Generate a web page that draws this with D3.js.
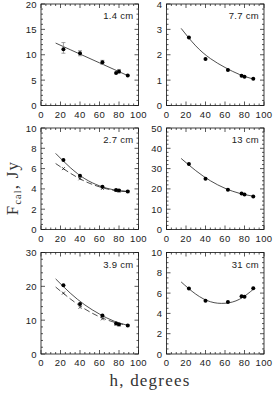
<!DOCTYPE html>
<html>
<head>
<meta charset="utf-8">
<script src="https://cdn.jsdelivr.net/npm/d3@7"></script>
<style>
body { margin: 0; background: #fff; }
svg { display: block; }
.frame { fill: none; stroke: #111; stroke-width: 0.8; }
.tick { stroke: #111; stroke-width: 0.7; }
.tlab { font-family: "Liberation Sans", sans-serif; font-size: 9.5px; fill: #222; letter-spacing: 0.4px; }
.plab { font-family: "Liberation Sans", sans-serif; font-size: 9.5px; fill: #222; letter-spacing: 0.3px; }
.fit { fill: none; stroke: #222; stroke-width: 0.8; }
.dash { fill: none; stroke: #222; stroke-width: 0.8; stroke-dasharray: 6,3; }
.err { stroke: #888; stroke-width: 0.8; }
.axlab { font-family: "Liberation Serif", serif; font-size: 17px; fill: #333; letter-spacing: 1.2px; }
</style>
</head>
<body>
<svg width="273" height="396"></svg>
<script>
// panel order: top-left, top-right, mid-left, mid-right, bottom-left, bottom-right
var panelLabels = ["1.4 cm", "7.7 cm", "2.7 cm", "13 cm", "3.9 cm", "31 cm"];
var yMax = [20, 4, 10, 50, 30, 10];
var yMajor = [5, 1, 2, 10, 10, 2];
var yMinor = [1, 0.2, 0.5, 2, 2, 0.5];
var xTicks = [0, 20, 40, 60, 80, 100];

// elevation of the measurements, degrees
var hObs = [23, 40, 63, 77, 80, 89];

// filled points per panel
var obs14 = [11.1, 10.3, 8.5, 6.4, 6.7, 5.9];
var obs77 = [2.68, 1.83, 1.40, 1.17, 1.13, 1.05];
var obs27 = [6.85, 5.3, 4.2, 3.9, 3.85, 3.75];
var obs13 = [32.3, 25.0, 19.6, 17.7, 17.2, 16.3];
var obs39 = [20.3, 14.8, 11.4, 9.0, 8.7, 8.4];
var obs31 = [6.45, 5.25, 5.12, 5.7, 5.65, 6.47];

// crosses (second series) for 2.7 and 3.9 cm
var cross27 = [6.0, 5.0, 4.05, 3.85, 3.8, 3.73];
var cross39 = [18.0, 13.8, 10.4, 8.8, 8.6, 8.4];

// error bars in the 1.4 cm panel
var err14Lo = [10.3, 9.8, 8.1, null, 6.4, null];
var err14Hi = [12.4, 10.8, 8.9, null, 7.1, null];

// fitted curves
var fitX = [15, 30, 45, 60, 75, 90];
var fit14 = [12.3, 11.0, 9.7, 8.4, 7.1, 5.8];
var fit77 = [3.04, 2.35, 1.85, 1.50, 1.22, 1.03];
var fit27 = [7.5, 6.1, 5.0, 4.3, 3.9, 3.75];
var fit13 = [35, 29, 24, 20.3, 17.8, 16.3];
var fit39 = [22.2, 18.0, 14.5, 11.8, 9.7, 8.4];
var fit31 = [7.1, 5.9, 5.15, 5.0, 5.4, 6.45];
var dash27 = [6.5, 5.55, 4.75, 4.2, 3.85, 3.72];
var dash39 = [19.8, 16.3, 13.3, 11.0, 9.4, 8.4];

var obsData = [obs14, obs77, obs27, obs13, obs39, obs31];
var crossData = [null, null, cross27, null, cross39, null];
var fitData = [fit14, fit77, fit27, fit13, fit39, fit31];
var dashData = [null, null, dash27, null, dash39, null];

var colX = [41, 166.5];
var rowY = [4, 128, 252.5];
var pw = 97.5;
var ph = 101.5;

var svg = d3.select("svg");

function range(a, b, step) {
    var r = [];
    var n = Math.round((b - a) / step);
    for (var i = 0; i <= n; i++) { r.push(a + i * step); }
    return r;
}

function drawPanel(k) {
    var x0 = colX[k % 2];
    var y0 = rowY[Math.floor(k / 2)];
    var g = svg.append("g").attr("transform", "translate(" + x0 + "," + y0 + ")");

    var x = d3.scaleLinear().domain([0, 100]).range([0, pw]);
    var y = d3.scaleLinear().domain([0, yMax[k]]).range([ph, 0]);

    g.append("rect").attr("class", "frame")
        .attr("x", 0).attr("y", 0).attr("width", pw).attr("height", ph);

    // x ticks, inside, bottom and top
    range(0, 100, 5).forEach(function(v) {
        var len = (v % 20 == 0) ? 4 : 2;
        g.append("line").attr("class", "tick")
            .attr("x1", x(v)).attr("x2", x(v)).attr("y1", ph).attr("y2", ph - len);
        g.append("line").attr("class", "tick")
            .attr("x1", x(v)).attr("x2", x(v)).attr("y1", 0).attr("y2", len);
    });
    xTicks.forEach(function(v) {
        g.append("text").attr("class", "tlab")
            .attr("x", x(v)).attr("y", ph + 12)
            .attr("text-anchor", "middle").text(v);
    });

    // y ticks, inside, left and right
    var nmin = Math.round(yMax[k] / yMinor[k]);
    var per = Math.round(yMajor[k] / yMinor[k]);
    for (var i = 0; i <= nmin; i++) {
        var v = i * yMinor[k];
        var len = (i % per == 0) ? 4 : 2;
        g.append("line").attr("class", "tick")
            .attr("x1", 0).attr("x2", len).attr("y1", y(v)).attr("y2", y(v));
        g.append("line").attr("class", "tick")
            .attr("x1", pw).attr("x2", pw - len).attr("y1", y(v)).attr("y2", y(v));
    }
    range(0, yMax[k], yMajor[k]).forEach(function(v) {
        g.append("text").attr("class", "tlab")
            .attr("x", -4).attr("y", y(v) + 3.5)
            .attr("text-anchor", "end").text(v);
    });

    g.append("text").attr("class", "plab")
        .attr("x", pw - 5).attr("y", 15)
        .attr("text-anchor", "end").text(panelLabels[k]);

    var line = d3.line()
        .x(function(d, i) { return x(fitX[i]); })
        .y(function(d) { return y(d); })
        .curve(d3.curveNatural);

    g.append("path").attr("class", "fit").attr("d", line(fitData[k]));
    if (dashData[k]) {
        g.append("path").attr("class", "dash").attr("d", line(dashData[k]));
    }

    if (k == 0) {
        hObs.forEach(function(h, i) {
            if (err14Lo[i] == null) { return; }
            g.append("line").attr("class", "err")
                .attr("x1", x(h)).attr("x2", x(h))
                .attr("y1", y(err14Lo[i])).attr("y2", y(err14Hi[i]));
            [err14Lo[i], err14Hi[i]].forEach(function(e) {
                g.append("line").attr("class", "err")
                    .attr("x1", x(h) - 2).attr("x2", x(h) + 2)
                    .attr("y1", y(e)).attr("y2", y(e));
            });
        });
    }

    if (crossData[k]) {
        crossData[k].forEach(function(v, i) {
            var cx = x(hObs[i]), cy = y(v), s = 1.5;
            g.append("path").attr("class", "tick")
                .attr("d", "M" + (cx - s) + "," + (cy - s) + "L" + (cx + s) + "," + (cy + s) +
                           "M" + (cx - s) + "," + (cy + s) + "L" + (cx + s) + "," + (cy - s));
        });
    }

    g.selectAll("circle.pt").data(obsData[k]).enter().append("circle")
        .attr("class", "pt")
        .attr("cx", function(d, i) { return x(hObs[i]); })
        .attr("cy", function(d) { return y(d); })
        .attr("r", 2.0)
        .attr("fill", "#000");
}

for (var k = 0; k < 6; k++) {
    drawPanel(k);
}

// axis titles
var yl = svg.append("text").attr("class", "axlab")
    .attr("transform", "translate(18,188) rotate(-90)")
    .attr("text-anchor", "middle");
yl.append("tspan").text("F");
yl.append("tspan").attr("font-size", "10px").attr("dy", 3).text("cal");
yl.append("tspan").attr("dy", -3).text(", Jy");

svg.append("text").attr("class", "axlab")
    .attr("x", 150).attr("y", 386)
    .attr("text-anchor", "middle").text("h, degrees");
</script>
</body>
</html>
